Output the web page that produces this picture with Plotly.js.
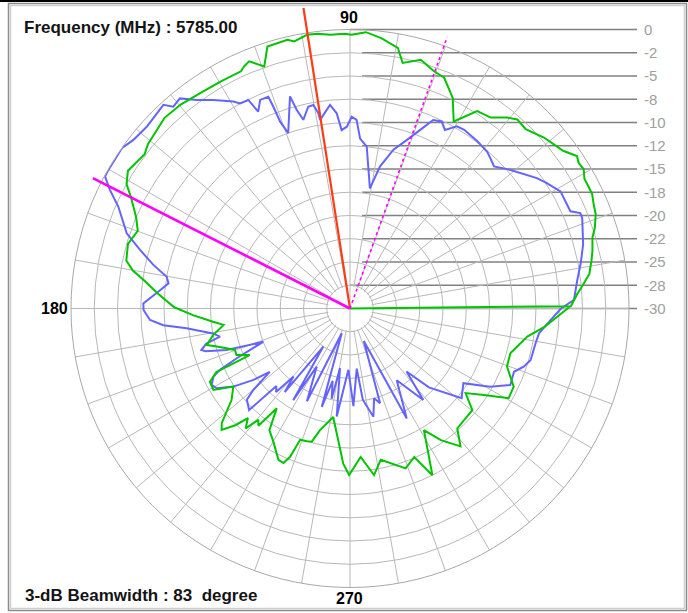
<!DOCTYPE html>
<html>
<head>
<meta charset="utf-8">
<script src="https://cdn.plot.ly/plotly-3.0.1.min.js"></script>
<style>
html,body{margin:0;padding:0;background:#fff;}
#chart{width:688px;height:613px;}
</style>
</head>
<body>
<div id="chart"></div>
<script>
// ---------------- DATA ----------------
const frequencyMHz = "5785.00";
const beamwidthDeg = 83;

const radialLevels = [0, -2.5, -5, -7.5, -10, -12.5, -15, -17.5, -20, -22.5, -25, -27.5, -30];
const radialLabels = ["0", "-2", "-5", "-8", "-10", "-12", "-15", "-18", "-20", "-22", "-25", "-28", "-30"];
const angleLabelVals = [90, 180, 270];

const peakAngle = 98.8;
const peakLen = 2.7;
const halfPowerAngles = [153.1, 70.3];
const halfPowerLen = 1.0;

const greenTheta = [0, 0.6, 3.7, 6.0, 8.2, 11.2, 13.4, 16.3, 18.3, 21.0, 23.2, 25.3, 26.9, 28.9, 30.8, 32.5, 33.9, 36.4, 37.1,
  41.4, 45.6, 48.5, 50.5, 53.6, 57.2, 61.0, 64.0, 67.8, 70.5, 74.1, 77.9, 79.6, 83.4, 86.7, 89.7, 91.1, 94.1, 96.8, 98.9,
  101.8, 103.1, 107.5, 109.5, 112.2, 113.6, 114.7, 119.6, 124.6, 129.6, 134.2, 140.9, 143.1, 148.2, 150.9, 153.1, 156.9,
  159.9, 163.8, 167.9, 170.1, 172.3, 175.6, 179.6, 182.4, 185.5, 187.4, 191.0, 194.3, 196.2, 199.8, 202.3, 204.9, 205.2,
  205.4, 207.6, 210.8, 213.8, 217.7, 221.8, 223.4, 225.5, 227.0, 229.0, 230.5, 232.0, 233.7, 236.5, 240.0, 244.7, 246.7,
  248.0, 249.2, 252.0, 254.0, 256.1, 261.2, 267.5, 269.7, 274.1, 278.2, 281.5, 289.2, 293.4, 296.3, 301.3, 304.6, 308.7,
  311.8, 320.3, 323.8, 327.2, 330.5, 334.5, 339.7, 344.4, 351.0, 354.6, 357.7, 360.6];
const greenR = [-30, -6.25, -5.5, -4.76, -4.0, -3.53, -3.2, -2.84, -2.27, -1.7, -1.5, -1.2, -1.2, -1.2, -0.75, -0.85, -0.6, -1.46, -1.6,
  -2.2, -3.0, -2.86, -3.4, -4.5, -4.75, -7.0, -4.8, -3.2, -2.94, -2.2, -3.0, -1.5, -0.74, -0.24, -0.57, -0.45, -0.49, -0.26, -0.21,
  -0.66, -0.33, -0.46, -2.38, -1.3, -1.58, -1.93, -1.9, -1.8, -1.5, -1.4, -2.0, -2.38, -1.9, -2.5, -3.6, -5.0,
  -5.7, -5.14, -5.4, -6.3, -7.7, -9.3, -11.1, -13.1, -15.2, -16.3, -15.0, -14.1, -15.26, -16.85, -16.8, -18.1, -16.1,
  -14.1, -13.0, -12.9, -14.9, -13.9, -11.5, -11.0, -12.4, -13.9, -12.9, -14.5, -14.0, -16.7, -14.3, -13.5, -12.0, -11.9,
  -12.8, -14.9, -15.0, -15.1, -16.5, -18.2, -13.3, -12.1, -14.0, -11.9, -13.4, -11.8, -12.6, -10.0, -14.7, -12.8, -11.0,
  -12.7, -12.9, -14.6, -12.85, -10.4, -10.5, -12.0, -12.1, -10.7, -9.0, -7.7, -6.3];

const blueTheta = [0, 2.2, 6.9, 11.2, 15.4, 21.3, 22.5, 23.8, 29.1, 32.5, 34.9, 40.8, 44.6, 46.9, 48.8, 52.7, 57.4, 59.6, 62.0,
  63.9, 66.2, 68.6, 71.4, 74.7, 78.1, 80.6, 84.1, 86.6, 88.0, 89.5, 91.0, 92.7, 93.9, 95.6, 99.0, 99.2, 100.2, 101.7, 103.9,
  105.0, 105.8, 109.4, 110.5, 110.8, 111.1, 113.3, 115.0, 116.0, 118.2, 119.4, 123.2, 126.3, 129.0, 131.2, 132.5, 138.2,
  142.1, 144.9, 146.4, 150.6, 151.7, 153.7, 156.3, 161.4, 164.4, 167.5, 170.2, 172.1, 175.0, 178.6, 180.4, 183.3, 185.1,
  186.9, 190.3, 192.2, 193.7, 195.6, 196.5, 198.6, 201.0, 203.7, 205.3, 206.5, 208.9, 210.9, 213.8, 216.5, 218.3, 220.1,
  221.5, 225.2, 226.5, 228.5, 230.3, 232.0, 235.0, 238.2, 240.2, 245.1, 251.5, 254.0, 256.5, 258.5, 260.5, 263.0, 268.5,
  272.0, 276.4, 278.0, 282.2, 285.0, 287.6, 293.0, 297.3, 303.1, 308.7, 311.9, 315.0, 321.2, 326.6, 330.8, 334.5, 338.9,
  341.5, 344.1, 349.4, 352.5, 356.7, 360.0];
const blueR = [-7.3, -5.9, -5.4, -4.7, -4.0, -3.2, -3.2, -4.1, -4.1, -4.9, -5.5, -7.2, -8.25, -7.9, -7.6, -7.4, -7.2, -7.3, -8.26,
  -7.6, -7.84, -9.4, -10.9, -12.3, -14.4, -16.9, -12.5, -11.7, -9.7, -9.38, -10.45, -10.8, -8.96, -8.0, -9.47, -8.73, -7.76, -7.84, -9.1,
  -7.9, -6.3, -10.0, -8.55, -6.8, -5.6, -5.58, -6.65, -5.05, -4.97, -4.46, -3.2, -2.17, -0.93, -1.16, -0.3, -0.68,
  -0.48, -0.01, -0.05, -0.05, -0.09, -1.2, -2.8, -4.67, -6.56, -8.34, -10.0, -10.3, -9.3, -7.77, -7.8, -8.46, -9.85,
  -12.3, -15.0, -15.7, -14.1, -13.4, -13.8, -16.0, -20.0, -16.7, -14.5, -13.6, -13.0, -13.3, -14.9, -17.1, -19.0, -16.4,
  -15.2, -14.6, -18.5, -18.0, -20.5, -18.6, -25.0, -18.4, -22.8, -19.0, -27.2, -19.0, -22.0, -20.1, -23.5, -18.3, -23.4,
  -19.5, -23.5, -20.1, -18.1, -20.0, -19.3, -26.2, -16.7, -20.8, -17.4, -20.9, -18.0, -14.6, -15.4, -12.75, -10.9, -11.1,
  -10.3, -9.8, -9.7, -9.5, -8.4, -7.3];

// ---------------- GEOMETRY / STYLE ----------------
const W = 688, H = 613;
const CX = 350, CY = 308.5, RAD = 279;
const UNIT = RAD / 30;
const EXT_MAX = 2.7;                 // radial reach of the overlay polar used for the marker lines
const RAD2 = (EXT_MAX + 30) * UNIT;
const GRID = '#b8b8b8';
const FONT = 'Liberation Sans, Arial, sans-serif';
const px = x => x / W;
const py = y => 1 - y / H;

// horizontal dB reference lines (drawn on a cartesian overlay aligned with the polar centre)
const lineX0 = v => (v === 0 || v === -27.5) ? 0 : 1.3;
const lineX1 = (637 - CX) / UNIT;
const lvX = [], lvY = [];
radialLevels.forEach(v => { lvX.push(lineX0(v), lineX1, null); lvY.push(v, v, null); });

const holeR = -30 + 22 / UNIT;
const holeTheta = [], holeRs = [];
for (let a = 0; a <= 360; a += 5) { holeTheta.push(a); holeRs.push(holeR); }

const traces = [
  { type: 'scatter', x: lvX, y: lvY, mode: 'lines', line: { color: '#808080', width: 1.6 },
    hoverinfo: 'skip', showlegend: false, xaxis: 'x', yaxis: 'y' },
  { type: 'scatterpolar', r: holeRs, theta: holeTheta, mode: 'lines', fill: 'toself', fillcolor: '#ffffff',
    line: { width: 0, color: '#ffffff' }, hoverinfo: 'skip', showlegend: false },
  { type: 'scatterpolar', r: [holeR, -30, holeR, null, holeR, -30, holeR], theta: [0, 0, 180, null, 90, 90, 270],
    mode: 'lines', line: { color: GRID, width: 1 }, hoverinfo: 'skip', showlegend: false },
  { type: 'scatterpolar', r: blueR, theta: blueTheta, mode: 'lines', line: { color: '#6464ff', width: 2 },
    showlegend: false },
  { type: 'scatterpolar', r: greenR, theta: greenTheta, mode: 'lines', line: { color: '#00c400', width: 2 },
    showlegend: false },
  { type: 'scatterpolar', subplot: 'polar2', r: [-30, peakLen], theta: [peakAngle, peakAngle], mode: 'lines',
    line: { color: '#ff3c14', width: 2.2 }, showlegend: false },
  { type: 'scatterpolar', subplot: 'polar2', r: [-30, halfPowerLen], theta: [halfPowerAngles[0], halfPowerAngles[0]],
    mode: 'lines', line: { color: '#ff00ff', width: 2.6 }, showlegend: false },
  { type: 'scatterpolar', subplot: 'polar2', r: [-30, halfPowerLen], theta: [halfPowerAngles[1], halfPowerAngles[1]],
    mode: 'lines', line: { color: '#ff00ff', width: 1.6, dash: 'dot' }, showlegend: false }
];

const spokes = [];
for (let a = 0; a < 360; a += 10) spokes.push(a);

const hiddenAxis = { showgrid: false, showline: false, showticklabels: false, ticks: '' };

const layout = {
  width: W, height: H,
  margin: { l: 0, r: 0, t: 0, b: 0, pad: 0 },
  paper_bgcolor: '#ffffff',
  plot_bgcolor: 'rgba(0,0,0,0)',
  showlegend: false,
  font: { family: FONT },
  xaxis: { domain: [0, 1], range: [-CX / UNIT, (W - CX) / UNIT], visible: false, fixedrange: true },
  yaxis: { domain: [0, 1], range: [-30 - (H - CY) / UNIT, -30 + CY / UNIT], side: 'right', anchor: 'free',
    position: 643 / W, showgrid: false, zeroline: false, showline: false, ticks: '',
    tickmode: 'array', tickvals: radialLevels, ticktext: radialLabels,
    tickfont: { family: FONT, size: 15, color: '#a0a0a0' }, fixedrange: true },
  polar: {
    domain: { x: [px(CX - RAD), px(CX + RAD)], y: [py(CY + RAD), py(CY - RAD)] },
    bgcolor: 'rgba(0,0,0,0)',
    radialaxis: { range: [-30, 0], tickmode: 'array', tickvals: radialLevels.slice(1, -1), showticklabels: false,
      ticks: '', showline: false, gridcolor: GRID, gridwidth: 1 },
    angularaxis: { rotation: 0, direction: 'counterclockwise', tickmode: 'array', tickvals: spokes,
      showticklabels: false, ticks: '', gridcolor: GRID, gridwidth: 1, showline: true, linecolor: '#a8a8a8', linewidth: 1 }
  },
  polar2: {
    domain: { x: [px(CX - RAD2), px(CX + RAD2)], y: [py(CY + RAD2), py(CY - RAD2)] },
    bgcolor: 'rgba(0,0,0,0)',
    radialaxis: Object.assign({ range: [-30, EXT_MAX] }, hiddenAxis),
    angularaxis: Object.assign({ rotation: 0, direction: 'counterclockwise' }, hiddenAxis)
  },
  annotations: [
    { xref: 'paper', yref: 'paper', x: px(22), y: py(27.5), xanchor: 'left', yanchor: 'middle', showarrow: false,
      text: '<b>Frequency (MHz) : ' + frequencyMHz + '</b>', font: { family: FONT, size: 17, color: '#141414' } },
    { xref: 'paper', yref: 'paper', x: px(23), y: py(595), xanchor: 'left', yanchor: 'middle', showarrow: false,
      text: '<b>3-dB Beamwidth : ' + beamwidthDeg + '\u00a0\u00a0degree</b>', font: { family: FONT, size: 17, color: '#141414' } },
    { xref: 'paper', yref: 'paper', x: px(CX - 1), y: py(17.5), xanchor: 'center', yanchor: 'middle', showarrow: false,
      text: '<b>' + angleLabelVals[0] + '</b>', font: { family: FONT, size: 16, color: '#000' } },
    { xref: 'paper', yref: 'paper', x: px(70), y: py(CY), xanchor: 'right', yanchor: 'middle', showarrow: false,
      text: '<b>' + angleLabelVals[1] + '</b>', font: { family: FONT, size: 16, color: '#000' } },
    { xref: 'paper', yref: 'paper', x: px(CX - 1), y: py(598.5), xanchor: 'center', yanchor: 'middle', showarrow: false,
      text: '<b>' + angleLabelVals[2] + '</b>', font: { family: FONT, size: 16, color: '#000' } }
  ],
  shapes: [
    { type: 'line', xref: 'paper', yref: 'paper', x0: 0, x1: 1, y0: py(1), y1: py(1), line: { color: '#000', width: 2 } },
    { type: 'rect', xref: 'paper', yref: 'paper', x0: px(8.5), x1: px(686.5), y0: py(610.5), y1: py(3.5),
      line: { color: '#8c8c8c', width: 1.5 } },
    { type: 'rect', xref: 'paper', yref: 'paper', x0: px(10.5), x1: px(684.5), y0: py(608.5), y1: py(5.5),
      line: { color: '#cfcfcf', width: 1.5 } }
  ]
};

Plotly.newPlot('chart', traces, layout, { staticPlot: true, displayModeBar: false });
</script>
</body>
</html>
